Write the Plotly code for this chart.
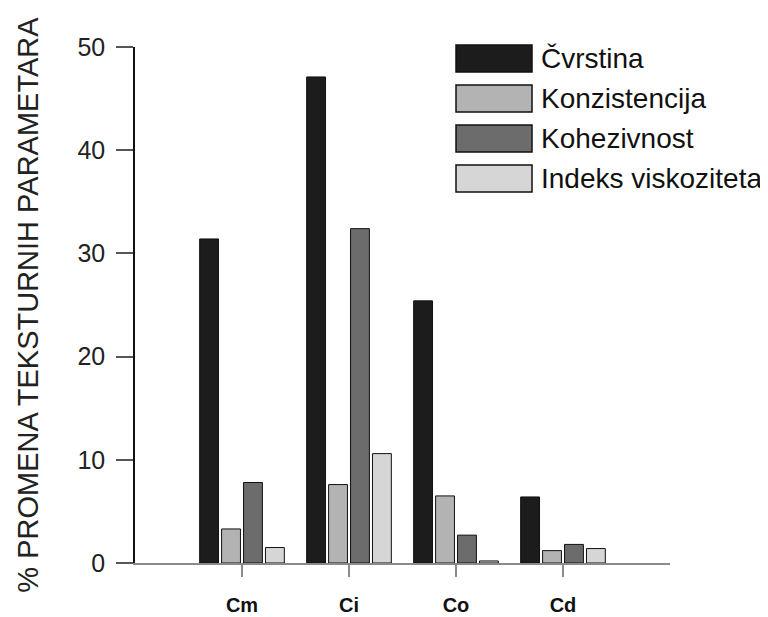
import plotly.graph_objects as go

categories = ["Cm", "Ci", "Co", "Cd"]
series_names = ["Čvrstina", "Konzistencija", "Kohezivnost", "Indeks viskoziteta"]
cvrstina = [31.4, 47.1, 25.4, 6.4]
konzistencija = [3.3, 7.6, 6.5, 1.2]
kohezivnost = [7.8, 32.4, 2.7, 1.8]
indeks_viskoziteta = [1.5, 10.6, 0.2, 1.4]
y_ticks = [0, 10, 20, 30, 40, 50]

series_values = [cvrstina, konzistencija, kohezivnost, indeks_viskoziteta]
colors = ["#1c1c1c", "#b3b3b3", "#6c6c6c", "#d6d6d6"]

# page body adds an 8px offset; margins compensate so the plot lands where the original is
OFF = 8
W, H = 768, 617
L, R, T, B = 135 - OFF, 98 + OFF, 47 - OFF, 54 + OFF
pw, ph = W - L - R, H - T - B

fig = go.Figure()
for name, vals, c in zip(series_names, series_values, colors):
    fig.add_trace(go.Bar(
        x=categories, y=vals, name=name,
        marker=dict(color=c, line=dict(color="#111111", width=1)),
        showlegend=False,
    ))

# custom legend (large swatches as in the original), positions in screen pixels
def px_x(p):
    return (p - OFF - L) / pw

def px_y(p):
    return (H - B - (p - OFF)) / ph

box_x0, box_x1 = 456, 532
row_top, row_h, row_pitch = 45, 27, 40
for i, (name, c) in enumerate(zip(series_names, colors)):
    top = row_top + i * row_pitch
    fig.add_shape(type="rect", xref="paper", yref="paper",
                  x0=px_x(box_x0), x1=px_x(box_x1),
                  y0=px_y(top + row_h), y1=px_y(top),
                  fillcolor=c, line=dict(color="#111111", width=1.5))
    fig.add_annotation(xref="paper", yref="paper",
                       x=px_x(539), y=px_y(top + row_h / 2),
                       xanchor="left", yanchor="middle", showarrow=False,
                       text=name,
                       font=dict(family="Liberation Sans, Arial", size=28, color="#111111"))

fig.update_layout(
    width=W, height=H,
    margin=dict(l=L, r=R, t=T, b=B),
    paper_bgcolor="white", plot_bgcolor="white",
    barmode="group", bargap=0.18, bargroupgap=0.14,
    font=dict(family="Liberation Sans, Arial, sans-serif", color="#222222"),
    xaxis=dict(
        type="category", range=[-1, 4], automargin=False,
        showline=True, linecolor="#8a8a8a", linewidth=2,
        ticks="outside", ticklen=12, tickcolor="#8a8a8a", tickwidth=2,
        tickfont=dict(size=20, color="#111111", family="Liberation Sans, Arial"),
        ticklabelstandoff=11,
        showgrid=False, zeroline=False,
    ),
    yaxis=dict(
        range=[0, 50], tickvals=y_ticks, automargin=False,
        showline=True, linecolor="#111111", linewidth=1.5,
        ticks="outside", ticklen=17, tickcolor="#555555", tickwidth=2,
        tickfont=dict(size=25, color="#222222"),
        ticklabelstandoff=6,
        showgrid=False, zeroline=False,
        title=dict(text="% PROMENA TEKSTURNIH PARAMETARA",
                   font=dict(size=29, color="#222222"), standoff=30),
    ),
)
fig.update_xaxes(tickprefix="<b>", ticksuffix="</b>")

fig.write_html("out.html")
